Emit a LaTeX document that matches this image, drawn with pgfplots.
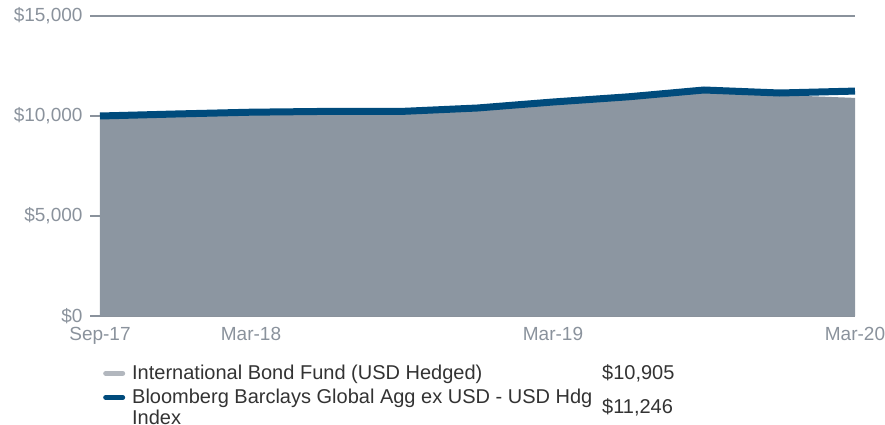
\documentclass[border=0pt]{standalone}
\usepackage{pgfplots}
\pgfplotsset{compat=1.18}
\usepackage{pgfplotstable}
\usepackage{fontspec}
\setmainfont{Liberation Sans}
\definecolor{areagray}{HTML}{8C96A1}
\definecolor{idxblue}{HTML}{004B7C}
\definecolor{leggray}{HTML}{B2B7BE}
\definecolor{tickgray}{HTML}{8A929C}
\definecolor{legtext}{HTML}{333333}
\pgfplotsset{shortline/.style={legend image code/.code={\draw[##1] (0bp,0bp) -- (17bp,0bp);}}}
\pgfplotstableread{
x fund index
0 10000 10000
1 10060 10100
2 10130 10190
3 10150 10230
4 10150 10230
5 10300 10400
6 10580 10700
7 10850 10960
8 11200 11300
9 11050 11150
10 10905 11246
}\datatab
\begin{document}
\begin{tikzpicture}
\begin{axis}[
  name=main,
  scale only axis, width=755bp, height=300bp,
  xmin=0, xmax=10, ymin=0, ymax=15000,
  xtick={0,2,6,10}, xticklabels={Sep-17,Mar-18,Mar-19,Mar-20},
  ytick={0,5000,10000,15000},
  yticklabels={{\$0},{\$5,000},{\$10,000},{\$15,000}},
  scaled y ticks=false,
  ytick pos=left,
  axis line style={draw=none},
  tick align=outside, major tick length=10bp,
  xtick style={draw=none},
  ytick style={draw=tickgray, line width=1.2bp},
  ymajorgrids, grid style={tickgray, line width=1.2bp},
  ticklabel style={font=\fontsize{19bp}{22bp}\selectfont, text=tickgray},
  xticklabel style={yshift=2bp},
  yticklabel style={xshift=-4bp},
  legend style={at={(axis description cs:0.0,-0.15)}, anchor=north west, draw=none, fill=none,
     font=\fontsize{20bp}{21bp}\selectfont, text=legtext, row sep=4bp},
  legend cell align=left,
  clip=false,
]
\addplot[fill=areagray, draw=none, forget plot] table[x=x,y=fund] {\datatab} \closedcycle;
\addplot[idxblue, line width=7bp, forget plot] table[x=x,y=index] {\datatab};
\addlegendimage{leggray, line width=5bp, line cap=round, shortline}
\addlegendentry{\hspace{5bp}\makebox[470bp][l]{International Bond Fund (USD Hedged)}\$10,905}
\addlegendimage{idxblue, line width=5bp, line cap=round, shortline}
\addlegendentry{\hspace{5bp}\parbox[t]{470bp}{Bloomberg Barclays Global Agg ex USD - USD Hdg\\Index}\raisebox{-10bp}{\$11,246}}
\end{axis}
\pgfresetboundingbox
\path[use as bounding box] ([shift={(-100bp,-109bp)}]main.south west) rectangle ([shift={(30bp,16bp)}]main.north east);
\end{tikzpicture}
\end{document}
